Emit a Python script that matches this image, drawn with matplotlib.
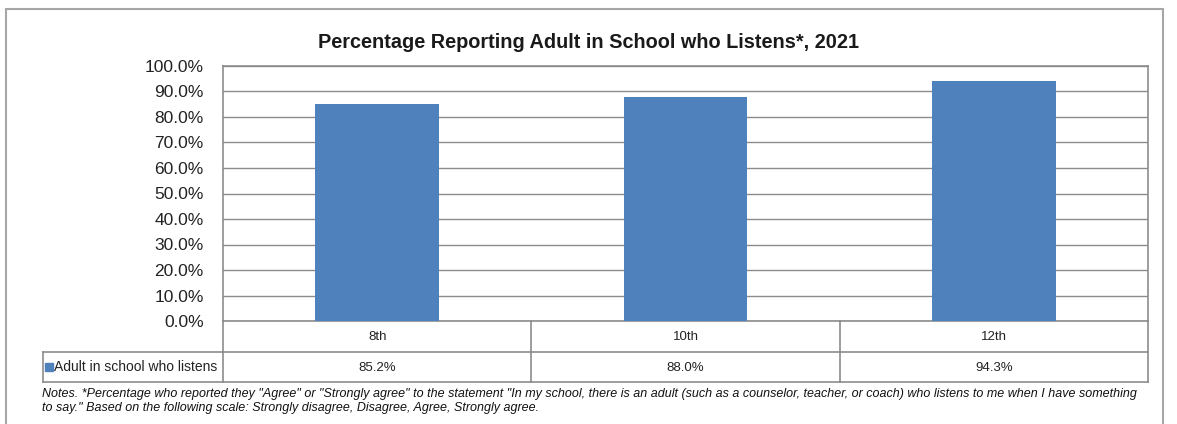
import matplotlib.pyplot as plt
from matplotlib.patches import Rectangle
from matplotlib import font_manager

grades = ['8th', '10th', '12th']
values = [85.2, 88.0, 94.3]
series_name = 'Adult in school who listens'
yticks = [0, 10, 20, 30, 40, 50, 60, 70, 80, 90, 100]

names = {f.name for f in font_manager.fontManager.ttflist}
narrow = 'Liberation Sans Narrow' if 'Liberation Sans Narrow' in names else 'Liberation Sans'
plt.rcParams['font.family'] = [narrow, 'DejaVu Sans']

W, H = 1177, 424
blue = '#4F81BD'
grid = '#8C8C8C'

fig = plt.figure(figsize=(W / 100, H / 100), dpi=100)

# outer frame
fig.patches.append(Rectangle((6 / W, -0.01), (1163 - 6) / W, (H - 9) / H + 0.01,
                             transform=fig.transFigure, fill=False,
                             edgecolor='#A6A6A6', lw=1.5))

left, right, top, bot = 223, 1148, 66, 321
ax = fig.add_axes([left / W, 1 - bot / H, (right - left) / W, (bot - top) / H])
ax.bar(range(len(grades)), values, width=0.4, color=blue, zorder=3)
ax.set_xlim(-0.5, len(grades) - 0.5)
ax.set_ylim(0, 100)
ax.set_yticks(yticks)
ax.set_yticklabels([f'{v:.1f}%' for v in yticks], fontsize=12.5, color='#222222')
ax.tick_params(axis='y', length=0, pad=14)
ax.set_xticks([])
ax.grid(axis='y', color=grid, lw=1, zorder=0)
for s in ax.spines.values():
    s.set_color(grid)
    s.set_linewidth(1.2)

fig.text(588 / W, 1 - 43 / H, 'Percentage Reporting Adult in School who Listens*, 2021',
         ha='center', va='center', fontsize=14.3, fontweight='bold', color='#1a1a1a')

# data table below the axes
row1_top, row1_bot, row2_bot = 321, 352, 382
legend_left = 43
def fy(y):
    return 1 - y / H
def fx(x):
    return x / W

tkw = dict(transform=fig.transFigure, color=grid, lw=1.2)
fig.add_artist(plt.Line2D([fx(left), fx(right)], [fy(row1_bot)] * 2, **tkw))
fig.add_artist(plt.Line2D([fx(legend_left), fx(right)], [fy(row2_bot)] * 2, **tkw))
fig.add_artist(plt.Line2D([fx(legend_left), fx(left)], [fy(row1_bot)] * 2, **tkw))
fig.add_artist(plt.Line2D([fx(legend_left)] * 2, [fy(row1_bot), fy(row2_bot)], **tkw))
ncol = len(grades)
colw = (right - left) / ncol
for i in range(ncol + 1):
    x = left + i * colw
    fig.add_artist(plt.Line2D([fx(x)] * 2, [fy(row1_top), fy(row2_bot)], **tkw))
for i, (g, v) in enumerate(zip(grades, values)):
    cx = left + (i + 0.5) * colw
    fig.text(fx(cx), fy((row1_top + row1_bot) / 2 + 1), g, ha='center', va='center',
             fontsize=9.5, color='#222222')
    fig.text(fx(cx), fy((row1_bot + row2_bot) / 2 + 1), f'{v:.1f}%', ha='center',
             va='center', fontsize=9.5, color='#222222')
fig.patches.append(Rectangle((fx(45), fy(371)), 8 / W, 8 / H, transform=fig.transFigure,
                             color=blue))
fig.text(fx(54), fy(367), series_name, ha='left', va='center', fontsize=10,
         color='#222222')

note1 = ('Notes. *Percentage who reported they "Agree" or "Strongly agree" to the statement '
         '"In my school, there is an adult (such as a counselor, teacher, or coach) who '
         'listens to me when I have something')
note2 = 'to say." Based on the following scale: Strongly disagree, Disagree, Agree, Strongly agree.'
fig.text(fx(42), fy(394), note1, ha='left', va='center', fontsize=9, style='italic',
         color='#111111')
fig.text(fx(42), fy(408), note2, ha='left', va='center', fontsize=9, style='italic',
         color='#111111')

fig.savefig('out.png', dpi=100)
